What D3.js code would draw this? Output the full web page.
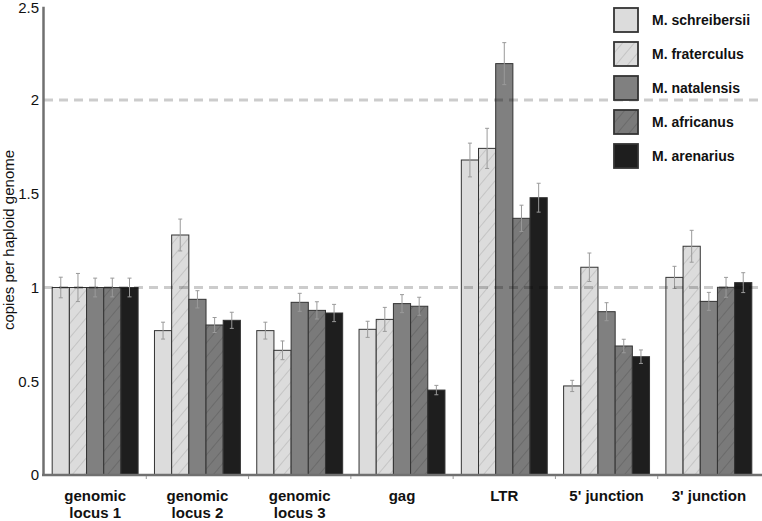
<!DOCTYPE html>
<html><head><meta charset="utf-8">
<script src="https://cdn.jsdelivr.net/npm/d3@7"></script>
<style>body{margin:0;background:#fff}svg{display:block;font-family:"Liberation Sans",Arial,sans-serif}</style>
</head><body>
<svg id="c" width="762" height="521"></svg>
<script>
const categories = ["genomic\nlocus 1","genomic\nlocus 2","genomic\nlocus 3","gag","LTR","5' junction","3' junction"];
const seriesNames = ["M. schreibersii","M. fraterculus","M. natalensis","M. africanus","M. arenarius"];
const schreibersii = [1.00, 0.77, 0.77, 0.777, 1.68, 0.475, 1.054];
const fraterculus  = [1.00, 1.28, 0.665, 0.83, 1.742, 1.108, 1.22];
const natalensis   = [1.00, 0.937, 0.921, 0.914, 2.194, 0.871, 0.926];
const africanus    = [1.00, 0.80, 0.878, 0.90, 1.369, 0.688, 1.001];
const arenarius    = [1.00, 0.825, 0.864, 0.453, 1.479, 0.631, 1.026];
const errSchreibersii = [0.055, 0.045, 0.045, 0.043, 0.09, 0.03, 0.059];
const errFraterculus  = [0.075, 0.085, 0.05, 0.064, 0.107, 0.076, 0.085];
const errNatalensis   = [0.05, 0.046, 0.048, 0.048, 0.112, 0.048, 0.048];
const errAfricanus    = [0.05, 0.04, 0.046, 0.048, 0.07, 0.036, 0.053];
const errArenarius    = [0.05, 0.043, 0.046, 0.025, 0.077, 0.036, 0.053];
const yTicks = [0, 0.5, 1, 1.5, 2, 2.5];
const yTickLabels = ["0","0.5","1","1.5","2","2.5"];
const gridValues = [1, 2];

const values = [schreibersii, fraterculus, natalensis, africanus, arenarius];
const errors = [errSchreibersii, errFraterculus, errNatalensis, errAfricanus, errArenarius];
const fills = ["#dcdcdc","url(#hatchLight)","#808080","url(#hatchDark)","#1e1e1e"];

const svg = d3.select("#c");
const defs = svg.append("defs");
function hatch(id, bg, line){
  const p = defs.append("pattern").attr("id", id).attr("patternUnits","userSpaceOnUse")
    .attr("width", 9).attr("height", 9).attr("patternTransform","rotate(40)");
  p.append("rect").attr("width",9).attr("height",9).attr("fill",bg);
  p.append("line").attr("x1",0).attr("y1",0).attr("x2",0).attr("y2",9).attr("stroke",line).attr("stroke-width",0.8);
}
hatch("hatchLight", "#dcdcdc", "#a0a0a0");
hatch("hatchDark", "#7a7a7a", "#525252");

const x0 = d3.scaleBand().domain(categories).range([44, 760]).paddingInner(0.16).paddingOuter(0.08);
const x1 = d3.scaleBand().domain(seriesNames).range([0, x0.bandwidth()]);
const y = d3.scaleLinear().domain([0, 2.5]).range([475, 6.25]);

const data = [];
categories.forEach((c, i) => seriesNames.forEach((s, j) => data.push({c, s, j, v: values[j][i], e: errors[j][i]})));

// bars
svg.append("g").selectAll("rect").data(data).join("rect")
  .attr("x", d => x0(d.c) + x1(d.s))
  .attr("y", d => y(d.v))
  .attr("width", x1.bandwidth())
  .attr("height", d => y(0) - y(d.v))
  .attr("fill", d => fills[d.j])
  .attr("stroke", "#333").attr("stroke-width", 1);

// error bars
const eg = svg.append("g").attr("stroke", "#9a9a9a").attr("stroke-width", 1);
data.forEach(d => {
  const cx = x0(d.c) + x1(d.s) + x1.bandwidth()/2;
  eg.append("line").attr("x1", cx).attr("x2", cx).attr("y1", y(d.v + d.e)).attr("y2", y(d.v - d.e));
  eg.append("line").attr("x1", cx-2).attr("x2", cx+2).attr("y1", y(d.v + d.e)).attr("y2", y(d.v + d.e));
  eg.append("line").attr("x1", cx-2).attr("x2", cx+2).attr("y1", y(d.v - d.e)).attr("y2", y(d.v - d.e));
});

// dashed grid lines
svg.append("g").selectAll("line").data(gridValues).join("line")
  .attr("x1", 44).attr("x2", 762).attr("y1", d => y(d)).attr("y2", d => y(d))
  .attr("stroke", "#000").attr("stroke-opacity", 0.2).attr("stroke-width", 3).attr("stroke-dasharray", "9,6");

// y axis
const yAxis = svg.append("g").attr("transform", "translate(43,0)")
  .call(d3.axisLeft(y).tickValues(yTicks).tickSize(0).tickPadding(4).tickFormat((d, i) => yTickLabels[i]));
yAxis.select(".domain").attr("stroke", "#707070").attr("stroke-width", 2.5);
yAxis.selectAll("text").attr("font-size", 15).attr("fill", "#111").attr("font-family", "Liberation Sans, Arial, sans-serif");
yAxis.selectAll(".tick").filter(d => d === 2.5).select("text").attr("dy", "0.42em");

// x axis
const xAxisG = svg.append("g");
xAxisG.append("line").attr("x1", 42).attr("x2", 762).attr("y1", y(0)).attr("y2", y(0)).attr("stroke", "#707070").attr("stroke-width", 2.5);
const step = x0.step();
xAxisG.selectAll("line.tk").data(categories.slice(1)).join("line").attr("class","tk")
  .attr("x1", d => x0(d) - step*0.08).attr("x2", d => x0(d) - step*0.08)
  .attr("y1", y(0)+1).attr("y2", y(0)+4).attr("stroke", "#999").attr("stroke-width", 1);

// x labels
const lab = svg.append("g").attr("font-size", 15).attr("font-weight", "bold").attr("fill", "#111").attr("text-anchor", "middle");
categories.forEach(c => {
  const lines = c.split("\n");
  const t = lab.append("text").attr("x", x0(c) + x0.bandwidth()/2).attr("y", 501);
  lines.forEach((l, k) => t.append("tspan").attr("x", x0(c) + x0.bandwidth()/2).attr("dy", k ? 16.5 : 0).text(l));
});

// y title
svg.append("text").attr("transform", "translate(14,240) rotate(-90)").attr("text-anchor", "middle")
  .attr("font-size", 15).attr("fill", "#111").text("copies per haploid genome");

// legend
const leg = svg.append("g");
seriesNames.forEach((s, j) => {
  const yy = 8 + j * 34;
  leg.append("rect").attr("x", 614).attr("y", yy).attr("width", 24).attr("height", 24)
    .attr("fill", fills[j]).attr("stroke", "#333").attr("stroke-width", 1.8);
  leg.append("text").attr("x", 652).attr("y", yy + 17).attr("font-size", 14).attr("font-weight", "bold")
    .attr("fill", "#111").text(s);
});
</script>
</body></html>
